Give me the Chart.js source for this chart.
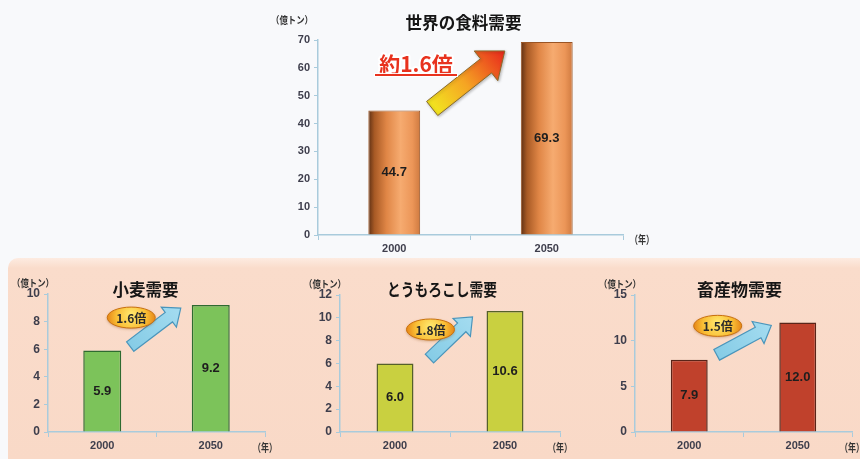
<!DOCTYPE html>
<html><head><meta charset="utf-8">
<script src="https://cdn.jsdelivr.net/npm/chart.js@4.4.0/dist/chart.umd.min.js"></script>
<style>
html,body{margin:0;padding:0;}
body{width:860px;height:459px;position:relative;overflow:hidden;background:#f8f9fb;}
#panel{position:absolute;left:8px;top:258px;width:852px;height:201px;background:linear-gradient(#fdebe1 0px,#fadccb 10px,#f9d9c7 100%);border-top-left-radius:10px;}
canvas{position:absolute;}
</style></head><body>
<div id="panel"></div>
<canvas id="c0" width="400" height="259" style="left:262px;top:0px"></canvas>
<canvas id="c1" width="290" height="197" style="left:0px;top:262px"></canvas>
<canvas id="c2" width="290" height="197" style="left:290px;top:262px"></canvas>
<canvas id="c3" width="280" height="197" style="left:580px;top:262px"></canvas>
<script>
// ---- data ----
const years = ['2000', '2050'];
const worldFood = [44.7, 69.3];
const wheat = [5.9, 9.2];
const corn = [6.0, 10.6];
const livestock = [7.9, 12.0];
const yMaxes = [70, 10, 12, 15];
const ySteps = [10, 2, 2, 5];
const chartTitles = ['世界の食料需要', '小麦需要', 'とうもろこし需要', '畜産物需要'];
const ratioLabels = ['約1.6倍', '1.6倍', '1.8倍', '1.5倍'];
const unitLabel = '（億トン）';
const yearUnit = '（年）';

// ---- styles ----
Chart.defaults.font.family = "'Liberation Sans', Arial, sans-serif";
const AXIS = '#a9cbdc';
const TICK = '#3e3e4c';
const JP = "'Noto Sans CJK JP', sans-serif";

function orangeFill(barPct) {
  return (ctx) => {
    const c = ctx.chart, xs = c.scales.x;
    if (!xs || !c.chartArea) return '#e8904f';
    const cx = xs.getPixelForValue(ctx.dataIndex);
    const bw = xs.width / years.length * barPct;
    const g = c.ctx.createLinearGradient(cx - bw / 2, 0, cx + bw / 2, 0);
    g.addColorStop(0, '#5e3014');
    g.addColorStop(0.12, '#a85a25');
    g.addColorStop(0.35, '#e08646');
    g.addColorStop(0.62, '#f6ab70');
    g.addColorStop(0.85, '#ec9658');
    g.addColorStop(1, '#cf7a40');
    return g;
  };
}

function drawArrow(ctx, x0, y0, x1, y1, sw, hw, hl, fill, stroke, lw) {
  const dx = x1 - x0, dy = y1 - y0, L = Math.hypot(dx, dy);
  const ux = dx / L, uy = dy / L, nx = -uy, ny = ux;
  const bx = x1 - ux * hl, by = y1 - uy * hl;
  ctx.beginPath();
  ctx.moveTo(x0 + nx * sw, y0 + ny * sw);
  ctx.lineTo(bx + nx * sw, by + ny * sw);
  ctx.lineTo(bx + nx * hw, by + ny * hw);
  ctx.lineTo(x1, y1);
  ctx.lineTo(bx - nx * hw, by - ny * hw);
  ctx.lineTo(bx - nx * sw, by - ny * sw);
  ctx.lineTo(x0 - nx * sw, y0 - ny * sw);
  ctx.closePath();
  ctx.fillStyle = fill; ctx.fill();
  ctx.lineWidth = lw; ctx.strokeStyle = stroke; ctx.lineJoin = 'miter'; ctx.stroke();
}

function drawBadge(ctx, cx, cy, text) {
  ctx.save();
  ctx.shadowColor = 'rgba(140,70,0,0.45)'; ctx.shadowBlur = 3; ctx.shadowOffsetY = 1;
  const g = ctx.createRadialGradient(cx, cy - 3, 2, cx, cy, 26);
  g.addColorStop(0, '#ffe468'); g.addColorStop(0.55, '#f9bd34'); g.addColorStop(1, '#e27a12');
  ctx.beginPath(); ctx.ellipse(cx, cy, 24, 10.5, 0, 0, Math.PI * 2);
  ctx.fillStyle = g; ctx.fill();
  ctx.shadowColor = 'transparent';
  ctx.lineWidth = 1; ctx.strokeStyle = '#c8700f'; ctx.stroke();
  ctx.fillStyle = '#2a2a2a'; ctx.font = 'bold 12px ' + JP;
  ctx.textAlign = 'center'; ctx.textBaseline = 'middle';
  ctx.fillText(text, cx, cy + 0.5, 34);
  ctx.restore();
}

const specs = [
  { id: 'c0', values: worldFood, idx: 0, yWidth: 56, xHeight: 24, pad: { left: 0, right: 39, top: 40, bottom: 0 },
    barPct: 0.34, border: '#9a5525', bw: 1, yFont: 11, valFont: 13, top: true,
    titleSize: 17, titleMax: 116, titleDx: -7, titleY: -17 },
  { id: 'c1', values: wheat, idx: 1, yWidth: 48, xHeight: 27, pad: { left: 0, right: 25, top: 32, bottom: 0 },
    barPct: 0.35, fill: '#7cc35a', border: '#2e6b30', bw: 1.5, yFont: 12, valFont: 13,
    titleSize: 17, titleMax: 66, titleDx: -11, titleY: -4,
    tail: [9, -4], tip: [-11, 3] },
  { id: 'c2', values: corn, idx: 2, yWidth: 50, xHeight: 27, pad: { left: 0, right: 20, top: 33, bottom: 0 },
    barPct: 0.336, fill: '#c9d040', border: '#55602a', bw: 1.5, yFont: 12, valFont: 13,
    titleSize: 17, titleMax: 110, titleDx: -8, titleY: -5,
    tail: [16, -5], tip: [-14, 6] },
  { id: 'c3', values: livestock, idx: 3, yWidth: 55, xHeight: 27, pad: { left: 0, right: 8, top: 33, bottom: 0 },
    barPct: 0.34, fill: '#c0412c', border: '#5a2418', bw: 1.5, yFont: 12, valFont: 13,
    titleSize: 17, titleMax: 85, titleDx: -4, titleY: -5,
    tail: [9, -5], tip: [-8, 3] }
];

specs.forEach((s) => {
  const annot = {
    id: 'annot' + s.idx,
    afterDatasetsDraw(chart) {
      const ctx = chart.ctx, ca = chart.chartArea;
      const els = chart.getDatasetMeta(0).data;
      ctx.save();
      // value labels at bar middle
      ctx.font = 'bold ' + s.valFont + 'px ' + Chart.defaults.font.family;
      ctx.fillStyle = '#1e1e1e'; ctx.textAlign = 'center'; ctx.textBaseline = 'middle';
      els.forEach((e, i) => ctx.fillText(s.values[i].toFixed(1), e.x, (e.y + e.base) / 2));
      // title
      ctx.font = 'bold ' + s.titleSize + 'px ' + JP;
      ctx.fillStyle = '#161616';
      ctx.fillText(chartTitles[s.idx], (ca.left + ca.right) / 2 + s.titleDx, ca.top + s.titleY, s.titleMax);
      // unit label
      ctx.font = 'bold 10px ' + JP; ctx.fillStyle = '#333';
      if (s.top) {
        ctx.fillText(unitLabel, ca.left - 26, ca.top - 20, 42);
        ctx.font = 'bold 11px ' + JP;
        ctx.fillText(yearUnit, ca.right + 19, ca.bottom + 5, 24);
      } else {
        ctx.fillText(unitLabel, ca.left - 15, ca.top - 11, 42);
        ctx.font = 'bold 11px ' + JP;
        ctx.fillText(yearUnit, ca.right, ca.bottom + 16, 24);
      }
      const b1 = els[0], b2 = els[1];
      const r1 = b1.x + b1.width / 2, l2 = b2.x - b2.width / 2;
      if (s.top) {
        const x0 = r1 + 12, y0 = b1.y - 2, x1 = l2 - 16, y1 = b2.y + 9;
        const g = ctx.createLinearGradient(x0, y0, x1, y1);
        g.addColorStop(0, '#f2e620'); g.addColorStop(0.45, '#f5a423'); g.addColorStop(1, '#e8261c');
        ctx.save();
        ctx.shadowColor = 'rgba(0,0,0,0.25)'; ctx.shadowBlur = 3; ctx.shadowOffsetX = 1; ctx.shadowOffsetY = 1;
        drawArrow(ctx, x0, y0, x1, y1, 9, 19, 24, g, '#8a6a2a', 1);
        ctx.restore();
        // 約1.6倍
        const tx = ca.left + 98, ty = ca.top + 24;
        ctx.font = 'bold 21px ' + JP;
        ctx.lineJoin = 'round'; ctx.lineWidth = 4; ctx.strokeStyle = 'rgba(255,255,255,0.95)';
        ctx.strokeText(ratioLabels[0], tx, ty, 82);
        ctx.fillStyle = '#e8321e';
        ctx.fillText(ratioLabels[0], tx, ty, 82);
        ctx.fillStyle = 'rgba(255,255,255,0.9)'; ctx.fillRect(tx - 42, ty + 9, 84, 4);
        ctx.fillStyle = '#e8321e'; ctx.fillRect(tx - 41, ty + 10, 82, 2);
      } else {
        const x0 = r1 + s.tail[0], y0 = b1.y + s.tail[1];
        const x1 = l2 + s.tip[0], y1 = b2.y + s.tip[1];
        const g = ctx.createLinearGradient(x0, y0, x1, y1);
        g.addColorStop(0, '#86cce6'); g.addColorStop(1, '#a4dcf0');
        drawArrow(ctx, x0, y0, x1, y1, 6, 12.5, 15, g, '#4a95bb', 1.2);
        drawBadge(ctx, x0 + 1, y0 - 29, ratioLabels[s.idx]);
      }
      ctx.restore();
    }
  };
  new Chart(document.getElementById(s.id), {
    type: 'bar',
    data: {
      labels: years,
      datasets: [{
        data: s.values,
        backgroundColor: s.top ? orangeFill(s.barPct) : s.fill,
        borderColor: s.border,
        borderWidth: s.bw,
        borderSkipped: 'bottom',
        barPercentage: s.barPct,
        categoryPercentage: 1
      }]
    },
    options: {
      responsive: false, animation: false, devicePixelRatio: 1,
      layout: { padding: s.pad },
      plugins: { legend: { display: false }, title: { display: false }, tooltip: { enabled: false } },
      scales: {
        x: {
          grid: { display: true, drawOnChartArea: false, color: AXIS, tickLength: 5, offset: true },
          border: { color: AXIS, width: 1.5 },
          ticks: { font: { size: 11, weight: 'bold' }, color: TICK, padding: 2 },
          afterFit: (sc) => { sc.height = s.xHeight; }
        },
        y: {
          min: 0, max: yMaxes[s.idx],
          ticks: { stepSize: ySteps[s.idx], font: { size: s.yFont, weight: 'bold' }, color: TICK, padding: 4 },
          grid: { display: true, drawOnChartArea: false, color: AXIS, tickLength: 4 },
          border: { color: AXIS, width: 1.5 },
          afterFit: (sc) => { sc.width = s.yWidth; }
        }
      }
    },
    plugins: [annot]
  });
});
</script>
</body></html>
